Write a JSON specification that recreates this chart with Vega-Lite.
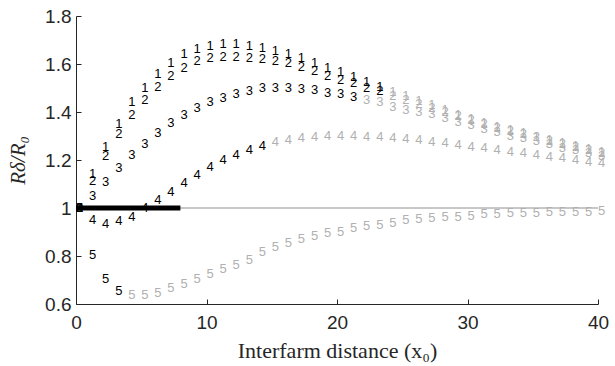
{
  "$schema": "https://vega.github.io/schema/vega-lite/v6.json",
  "width": 522,
  "height": 288,
  "autosize": "none",
  "padding": {"left": 76, "top": 16, "right": 17, "bottom": 62},
  "background": "white",
  "config": {
    "view": {"stroke": null},
    "axis": {
      "grid": false,
      "domainColor": "#262626",
      "domainWidth": 1,
      "tickColor": "#262626",
      "tickSize": -5,
      "labelColor": "#262626",
      "labelFont": "Liberation Sans",
      "labelFontSize": 19,
      "labelOverlap": false,
      "labelFlush": false,
      "titleFont": "Liberation Serif",
      "titleFontWeight": "normal",
      "titleColor": "#262626"
    }
  },
  "datasets": {
    "pts": [
      {"x":24,"y":1.482,"s":"1","c":"g"},{"x":25,"y":1.465,"s":"1","c":"g"},{"x":26,"y":1.444,"s":"1","c":"g"},{"x":27,"y":1.428,"s":"1","c":"g"},{"x":28,"y":1.408,"s":"1","c":"g"},{"x":29,"y":1.389,"s":"1","c":"g"},{"x":30,"y":1.371,"s":"1","c":"g"},{"x":31,"y":1.355,"s":"1","c":"g"},{"x":32,"y":1.339,"s":"1","c":"g"},{"x":33,"y":1.324,"s":"1","c":"g"},{"x":34,"y":1.311,"s":"1","c":"g"},{"x":35,"y":1.297,"s":"1","c":"g"},{"x":36,"y":1.283,"s":"1","c":"g"},{"x":37,"y":1.27,"s":"1","c":"g"},{"x":38,"y":1.258,"s":"1","c":"g"},{"x":39,"y":1.245,"s":"1","c":"g"},{"x":40,"y":1.232,"s":"1","c":"g"},
      {"x":24,"y":1.465,"s":"2","c":"g"},{"x":25,"y":1.45,"s":"2","c":"g"},{"x":26,"y":1.432,"s":"2","c":"g"},{"x":27,"y":1.418,"s":"2","c":"g"},{"x":28,"y":1.4,"s":"2","c":"g"},{"x":29,"y":1.382,"s":"2","c":"g"},{"x":30,"y":1.365,"s":"2","c":"g"},{"x":31,"y":1.35,"s":"2","c":"g"},{"x":32,"y":1.334,"s":"2","c":"g"},{"x":33,"y":1.32,"s":"2","c":"g"},{"x":34,"y":1.307,"s":"2","c":"g"},{"x":35,"y":1.294,"s":"2","c":"g"},{"x":36,"y":1.28,"s":"2","c":"g"},{"x":37,"y":1.267,"s":"2","c":"g"},{"x":38,"y":1.255,"s":"2","c":"g"},{"x":39,"y":1.242,"s":"2","c":"g"},{"x":40,"y":1.229,"s":"2","c":"g"},
      {"x":22,"y":1.448,"s":"3","c":"g"},{"x":23,"y":1.44,"s":"3","c":"g"},{"x":24,"y":1.42,"s":"3","c":"g"},{"x":25,"y":1.41,"s":"3","c":"g"},{"x":26,"y":1.398,"s":"3","c":"g"},{"x":27,"y":1.39,"s":"3","c":"g"},{"x":28,"y":1.376,"s":"3","c":"g"},{"x":29,"y":1.36,"s":"3","c":"g"},{"x":30,"y":1.345,"s":"3","c":"g"},{"x":31,"y":1.33,"s":"3","c":"g"},{"x":32,"y":1.315,"s":"3","c":"g"},{"x":33,"y":1.302,"s":"3","c":"g"},{"x":34,"y":1.29,"s":"3","c":"g"},{"x":35,"y":1.278,"s":"3","c":"g"},{"x":36,"y":1.265,"s":"3","c":"g"},{"x":37,"y":1.252,"s":"3","c":"g"},{"x":38,"y":1.24,"s":"3","c":"g"},{"x":39,"y":1.228,"s":"3","c":"g"},{"x":40,"y":1.216,"s":"3","c":"g"},
      {"x":15,"y":1.275,"s":"4","c":"g"},{"x":16,"y":1.283,"s":"4","c":"g"},{"x":17,"y":1.291,"s":"4","c":"g"},{"x":18,"y":1.295,"s":"4","c":"g"},{"x":19,"y":1.299,"s":"4","c":"g"},{"x":20,"y":1.299,"s":"4","c":"g"},{"x":21,"y":1.299,"s":"4","c":"g"},{"x":22,"y":1.295,"s":"4","c":"g"},{"x":23,"y":1.295,"s":"4","c":"g"},{"x":24,"y":1.291,"s":"4","c":"g"},{"x":25,"y":1.287,"s":"4","c":"g"},{"x":26,"y":1.283,"s":"4","c":"g"},{"x":27,"y":1.275,"s":"4","c":"g"},{"x":28,"y":1.27,"s":"4","c":"g"},{"x":29,"y":1.262,"s":"4","c":"g"},{"x":30,"y":1.254,"s":"4","c":"g"},{"x":31,"y":1.25,"s":"4","c":"g"},{"x":32,"y":1.241,"s":"4","c":"g"},{"x":33,"y":1.233,"s":"4","c":"g"},{"x":34,"y":1.229,"s":"4","c":"g"},{"x":35,"y":1.221,"s":"4","c":"g"},{"x":36,"y":1.212,"s":"4","c":"g"},{"x":37,"y":1.208,"s":"4","c":"g"},{"x":38,"y":1.2,"s":"4","c":"g"},{"x":39,"y":1.192,"s":"4","c":"g"},{"x":40,"y":1.188,"s":"4","c":"g"},
      {"x":4,"y":0.637,"s":"5","c":"g"},{"x":5,"y":0.637,"s":"5","c":"g"},{"x":6,"y":0.646,"s":"5","c":"g"},{"x":7,"y":0.667,"s":"5","c":"g"},{"x":8,"y":0.683,"s":"5","c":"g"},{"x":9,"y":0.704,"s":"5","c":"g"},{"x":10,"y":0.725,"s":"5","c":"g"},{"x":11,"y":0.746,"s":"5","c":"g"},{"x":12,"y":0.762,"s":"5","c":"g"},{"x":13,"y":0.785,"s":"5","c":"g"},{"x":14,"y":0.815,"s":"5","c":"g"},{"x":15,"y":0.838,"s":"5","c":"g"},{"x":16,"y":0.855,"s":"5","c":"g"},{"x":17,"y":0.869,"s":"5","c":"g"},{"x":18,"y":0.882,"s":"5","c":"g"},{"x":19,"y":0.894,"s":"5","c":"g"},{"x":20,"y":0.902,"s":"5","c":"g"},{"x":21,"y":0.915,"s":"5","c":"g"},{"x":22,"y":0.923,"s":"5","c":"g"},{"x":23,"y":0.931,"s":"5","c":"g"},{"x":24,"y":0.939,"s":"5","c":"g"},{"x":25,"y":0.948,"s":"5","c":"g"},{"x":26,"y":0.956,"s":"5","c":"g"},{"x":27,"y":0.96,"s":"5","c":"g"},{"x":28,"y":0.964,"s":"5","c":"g"},{"x":29,"y":0.964,"s":"5","c":"g"},{"x":30,"y":0.968,"s":"5","c":"g"},{"x":31,"y":0.973,"s":"5","c":"g"},{"x":32,"y":0.977,"s":"5","c":"g"},{"x":33,"y":0.981,"s":"5","c":"g"},{"x":34,"y":0.981,"s":"5","c":"g"},{"x":35,"y":0.981,"s":"5","c":"g"},{"x":36,"y":0.985,"s":"5","c":"g"},{"x":37,"y":0.985,"s":"5","c":"g"},{"x":38,"y":0.985,"s":"5","c":"g"},{"x":39,"y":0.985,"s":"5","c":"g"},{"x":40,"y":0.989,"s":"5","c":"g"},
      {"x":0,"y":1.0,"s":"5","c":"k"},{"x":1,"y":0.804,"s":"5","c":"k"},{"x":2,"y":0.704,"s":"5","c":"k"},{"x":3,"y":0.654,"s":"5","c":"k"},
      {"x":0,"y":1.0,"s":"4","c":"k"},{"x":1,"y":0.952,"s":"4","c":"k"},{"x":2,"y":0.935,"s":"4","c":"k"},{"x":3,"y":0.944,"s":"4","c":"k"},{"x":4,"y":0.964,"s":"4","c":"k"},{"x":5,"y":1.0,"s":"4","c":"k"},{"x":6,"y":1.035,"s":"4","c":"k"},{"x":7,"y":1.068,"s":"4","c":"k"},{"x":8,"y":1.105,"s":"4","c":"k"},{"x":9,"y":1.138,"s":"4","c":"k"},{"x":10,"y":1.171,"s":"4","c":"k"},{"x":11,"y":1.2,"s":"4","c":"k"},{"x":12,"y":1.221,"s":"4","c":"k"},{"x":13,"y":1.241,"s":"4","c":"k"},{"x":14,"y":1.258,"s":"4","c":"k"},
      {"x":0,"y":1.0,"s":"3","c":"k"},{"x":1,"y":1.051,"s":"3","c":"k"},{"x":2,"y":1.109,"s":"3","c":"k"},{"x":3,"y":1.167,"s":"3","c":"k"},{"x":4,"y":1.221,"s":"3","c":"k"},{"x":5,"y":1.266,"s":"3","c":"k"},{"x":6,"y":1.312,"s":"3","c":"k"},{"x":7,"y":1.353,"s":"3","c":"k"},{"x":8,"y":1.386,"s":"3","c":"k"},{"x":9,"y":1.415,"s":"3","c":"k"},{"x":10,"y":1.44,"s":"3","c":"k"},{"x":11,"y":1.457,"s":"3","c":"k"},{"x":12,"y":1.475,"s":"3","c":"k"},{"x":13,"y":1.488,"s":"3","c":"k"},{"x":14,"y":1.498,"s":"3","c":"k"},{"x":15,"y":1.502,"s":"3","c":"k"},{"x":16,"y":1.5,"s":"3","c":"k"},{"x":17,"y":1.497,"s":"3","c":"k"},{"x":18,"y":1.49,"s":"3","c":"k"},{"x":19,"y":1.481,"s":"3","c":"k"},{"x":20,"y":1.473,"s":"3","c":"k"},{"x":21,"y":1.461,"s":"3","c":"k"},
      {"x":0,"y":1.0,"s":"2","c":"k"},{"x":1,"y":1.113,"s":"2","c":"k"},{"x":2,"y":1.217,"s":"2","c":"k"},{"x":3,"y":1.308,"s":"2","c":"k"},{"x":4,"y":1.386,"s":"2","c":"k"},{"x":5,"y":1.448,"s":"2","c":"k"},{"x":6,"y":1.506,"s":"2","c":"k"},{"x":7,"y":1.552,"s":"2","c":"k"},{"x":8,"y":1.585,"s":"2","c":"k"},{"x":9,"y":1.612,"s":"2","c":"k"},{"x":10,"y":1.624,"s":"2","c":"k"},{"x":11,"y":1.628,"s":"2","c":"k"},{"x":12,"y":1.628,"s":"2","c":"k"},{"x":13,"y":1.626,"s":"2","c":"k"},{"x":14,"y":1.622,"s":"2","c":"k"},{"x":15,"y":1.614,"s":"2","c":"k"},{"x":16,"y":1.603,"s":"2","c":"k"},{"x":17,"y":1.586,"s":"2","c":"k"},{"x":18,"y":1.572,"s":"2","c":"k"},{"x":19,"y":1.552,"s":"2","c":"k"},{"x":20,"y":1.535,"s":"2","c":"k"},{"x":21,"y":1.522,"s":"2","c":"k"},{"x":22,"y":1.502,"s":"2","c":"k"},{"x":23,"y":1.487,"s":"2","c":"k"},
      {"x":0,"y":1.0,"s":"1","c":"k"},{"x":1,"y":1.14,"s":"1","c":"k"},{"x":2,"y":1.255,"s":"1","c":"k"},{"x":3,"y":1.35,"s":"1","c":"k"},{"x":4,"y":1.44,"s":"1","c":"k"},{"x":5,"y":1.5,"s":"1","c":"k"},{"x":6,"y":1.56,"s":"1","c":"k"},{"x":7,"y":1.605,"s":"1","c":"k"},{"x":8,"y":1.642,"s":"1","c":"k"},{"x":9,"y":1.663,"s":"1","c":"k"},{"x":10,"y":1.676,"s":"1","c":"k"},{"x":11,"y":1.684,"s":"1","c":"k"},{"x":12,"y":1.684,"s":"1","c":"k"},{"x":13,"y":1.676,"s":"1","c":"k"},{"x":14,"y":1.668,"s":"1","c":"k"},{"x":15,"y":1.655,"s":"1","c":"k"},{"x":16,"y":1.643,"s":"1","c":"k"},{"x":17,"y":1.626,"s":"1","c":"k"},{"x":18,"y":1.606,"s":"1","c":"k"},{"x":19,"y":1.585,"s":"1","c":"k"},{"x":20,"y":1.568,"s":"1","c":"k"},{"x":21,"y":1.545,"s":"1","c":"k"},{"x":22,"y":1.527,"s":"1","c":"k"},{"x":23,"y":1.505,"s":"1","c":"k"}
    ]
  },
  "encoding": {
    "x": {
      "field": "x",
      "type": "quantitative",
      "scale": {"domain": [0, 40], "nice": false, "zero": false},
      "axis": {
        "values": [0, 10, 20, 30, 40],
        "format": "d",
        "title": "Interfarm distance (x₀)",
        "titleFontSize": 22,
        "labelPadding": 14,
        "titlePadding": 8
      }
    },
    "y": {
      "field": "y",
      "type": "quantitative",
      "scale": {"domain": [0.6, 1.8], "nice": false, "zero": false},
      "axis": {
        "values": [0.6, 0.8, 1, 1.2, 1.4, 1.6, 1.8],
        "format": ".1~f",
        "title": "Rδ/R₀",
        "titleFontSize": 21,
        "titleFontStyle": "italic",
        "labelPadding": 10,
        "titlePadding": 16
      }
    }
  },
  "layer": [
    {
      "data": {"values": [{"x": 0, "x2": 40, "y": 1}]},
      "mark": {"type": "rule", "color": "#b4b4b4", "strokeWidth": 1.5},
      "encoding": {"x2": {"field": "x2"}}
    },
    {
      "data": {"values": [{"x": 0, "x2": 8, "y": 1}]},
      "mark": {"type": "rule", "color": "#000000", "strokeWidth": 5},
      "encoding": {"x2": {"field": "x2"}}
    },
    {
      "data": {"name": "pts"},
      "mark": {"type": "text", "align": "left", "baseline": "middle", "font": "Liberation Sans", "fontSize": 13, "clip": false},
      "encoding": {
        "text": {"field": "s", "type": "nominal"},
        "color": {"field": "c", "type": "nominal", "scale": {"domain": ["k", "g"], "range": ["#000000", "#b0b0b0"]}, "legend": null}
      }
    }
  ]
}
